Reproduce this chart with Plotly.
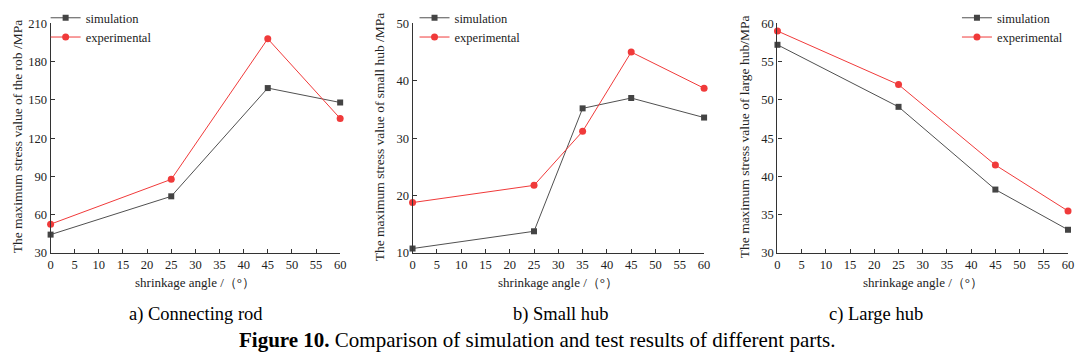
import plotly.graph_objects as go

angles_rod = [0, 25, 45, 60]
rod_sim = [44.5, 74.5, 159.3, 148.0]
rod_exp = [52.7, 87.8, 197.9, 135.5]

angles_small = [0, 25, 35, 45, 60]
small_sim = [10.8, 13.8, 35.2, 37.0, 33.6]
small_exp = [18.8, 21.8, 31.2, 45.0, 38.7]

angles_large = [0, 25, 45, 60]
large_sim = [57.2, 49.1, 38.3, 33.05]
large_exp = [59.0, 52.0, 41.5, 35.5]

x_ticks = [0, 5, 10, 15, 20, 25, 30, 35, 40, 45, 50, 55, 60]
rod_yticks = [30, 60, 90, 120, 150, 180, 210]
small_yticks = [10, 20, 30, 40, 50]
large_yticks = [30, 35, 40, 45, 50, 55, 60]

y_titles = ["The maximum stress value of the rob /MPa",
            "The maximum stress value of small hub /MPa",
            "The maximum stress value of large hub/MPa"]
x_title = "shrinkage angle /（°）"
sub_captions = ["a) Connecting rod", "b) Small hub", "c) Large hub"]
fig_caption = "<b>Figure 10.</b> Comparison of simulation and test results of different parts."

SIM_COLOR = "#444444"
EXP_COLOR = "#f03a3a"
FONT = "Liberation Serif"

W, H = 1076, 363
fig = go.Figure()

panels = [
    (angles_rod, rod_sim, rod_exp, rod_yticks, "legend"),
    (angles_small, small_sim, small_exp, small_yticks, "legend2"),
    (angles_large, large_sim, large_exp, large_yticks, "legend3"),
]
x_px = [(48, 340), (413, 707), (781, 1074)]
y_top, y_bot = 17, 256
ydom = [1 - y_bot / H, 1 - y_top / H]

for i, (xs, sim, exp, yt, lg) in enumerate(panels):
    sfx = "" if i == 0 else str(i + 1)
    fig.add_trace(go.Scatter(x=xs, y=sim, mode="lines+markers", name="simulation",
                             line=dict(color="#505050", width=1),
                             marker=dict(symbol="square", size=6, color=SIM_COLOR),
                             xaxis="x" + sfx, yaxis="y" + sfx, legend=lg, cliponaxis=False))
    fig.add_trace(go.Scatter(x=xs, y=exp, mode="lines+markers", name="experimental",
                             line=dict(color=EXP_COLOR, width=1),
                             marker=dict(symbol="circle", size=7, color=EXP_COLOR),
                             xaxis="x" + sfx, yaxis="y" + sfx, legend=lg, cliponaxis=False))
    x0, x1 = x_px[i]
    axcommon = dict(showline=True, linecolor="#333", linewidth=1.3, ticks="inside",
                    ticklen=4, tickcolor="#333", showgrid=False, zeroline=False,
                    tickfont=dict(family=FONT, size=12.5, color="#222"))
    fig.layout["xaxis" + sfx] = dict(domain=[x0 / W, x1 / W], range=[0, 60],
                                     tickvals=x_ticks, anchor="y" + sfx, **axcommon)
    fig.layout["yaxis" + sfx] = dict(domain=ydom, range=[yt[0], yt[-1]], tickvals=yt,
                                     anchor="x" + sfx, **axcommon)
    # y title
    fig.add_annotation(text=y_titles[i], xref="paper", yref="paper",
                       x=(x0 - 33) / W, y=(ydom[0] + ydom[1]) / 2 + 0.005, textangle=-90,
                       showarrow=False, font=dict(family=FONT, size=13.5, color="#222"),
                       xanchor="center", yanchor="middle")
    # x title
    fig.add_annotation(text=x_title, xref="paper", yref="paper",
                       x=(x0 + x1) / 2 / W, y=1 - 287 / H, showarrow=False,
                       font=dict(family=FONT, size=13, color="#222"),
                       xanchor="center", yanchor="middle")

caption_x = [195, 563, 880]
for cx, txt in zip(caption_x, sub_captions):
    fig.add_annotation(text=txt, xref="paper", yref="paper", x=cx / W, y=1 - 320 / H,
                       showarrow=False, font=dict(family=FONT, size=18.5, color="black"),
                       xanchor="center", yanchor="middle")
fig.add_annotation(text=fig_caption, xref="paper", yref="paper", x=538 / W, y=1 - 346 / H,
                   showarrow=False, font=dict(family=FONT, size=21, color="black"),
                   xanchor="center", yanchor="middle")

legend_common = dict(bgcolor="rgba(0,0,0,0)", font=dict(family=FONT, size=12.5, color="#222"),
                     tracegroupgap=0, itemwidth=30, yanchor="top", xanchor="left")
fig.update_layout(
    width=W, height=H, margin=dict(l=0, r=0, t=0, b=0),
    paper_bgcolor="white", plot_bgcolor="white",
    legend=dict(x=43 / W, y=1 + 4 / H, **legend_common),
    legend2=dict(x=415 / W, y=1 + 4 / H, **legend_common),
    legend3=dict(x=962 / W, y=1 + 4 / H, **legend_common),
)

fig.write_html("out.html")
